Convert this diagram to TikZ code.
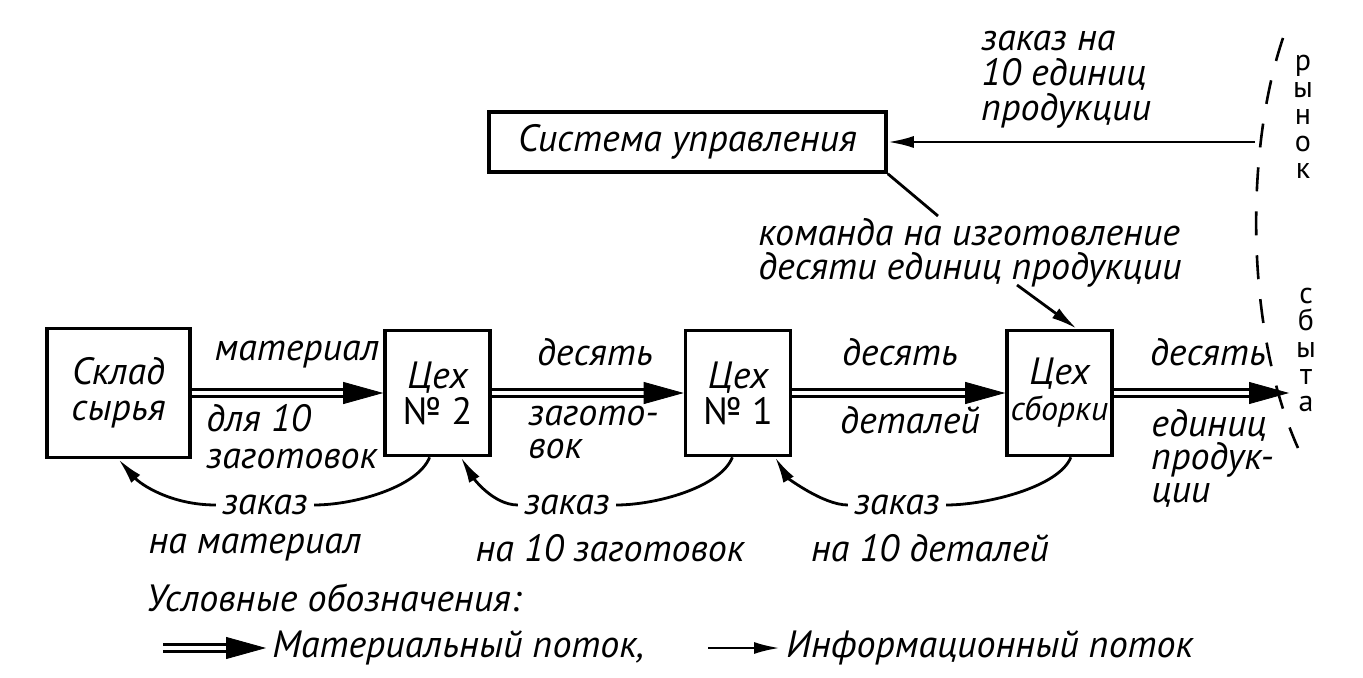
\documentclass[tikz,border=0pt]{standalone}
\usepackage{fontspec}
\setmainfont{PT Sans}
\usetikzlibrary{arrows.meta,calc}
\begin{document}
\begin{tikzpicture}[x=0.5pt,y=-0.5pt,
  every node/.style={font=\fontsize{19}{16.5}\selectfont\itshape, inner sep=3pt},
  box/.style={draw, line width=1.8pt, align=center, inner sep=0pt,
    font=\fontsize{19}{18}\selectfont\itshape},
  info/.style={line width=1.4pt, -{Latex[length=13pt,width=6pt]}},
  infoline/.style={line width=1.4pt},
  matline/.style={double, double distance=1.6pt, line width=1.5pt, shorten >=18pt},
  mattip/.style={draw=white, line width=0.4pt, -{Triangle[length=20pt,width=11pt,color=black]}},
  dsh/.style={line width=1.3pt, dash pattern=on 12pt off 10pt},
  vert/.style={font=\fontsize{15}{13.5}\selectfont, align=center, inner sep=0pt}
]
\useasboundingbox (0,0) rectangle (1363,678);

% boxes
\node[box, minimum width=71.5pt, minimum height=64.5pt] (sk) at (118.5,393) {Склад\\сырья};
\node[box, minimum width=52.5pt, minimum height=62.5pt] (c2) at (437.5,393) {Цех\\\upshape№ 2};
\node[box, minimum width=52.5pt, minimum height=62.5pt] (c1) at (738,393) {Цех\\\upshape№ 1};
\node[box, minimum width=52.5pt, minimum height=62.5pt] (cs) at (1059.5,393) {Цех\\{\fontsize{17}{18}\selectfont сборки}};
\node[box, minimum width=198.5pt, minimum height=30pt] (sys) at (687.5,142) {Система управления};

% material flow
\coordinate (mk) at (1289,393);
\foreach \a/\b in {sk.east/c2.west, c2.east/c1.west, c1.east/cs.west, cs.east/mk}{
  \draw[matline] (\a) -- (\b);
  \draw[mattip] (\a) -- (\b);
}

% labels on material arrows
\node (t1) at (297,355) {материал};
\node[anchor=north west, align=left, font=\fontsize{19}{18.5}\selectfont\itshape] (t2) at (200,398) {для 10\\заготовок};
\node (t3) at (595,352) {десять};
\node[anchor=north west, align=left] (t4) at (522,400) {загото-\\вок};
\node (t5) at (900,352) {десять};
\node (t6) at (910,420) {деталей};
\node (t7) at (1208,352) {десять};
\node[anchor=north west, align=left] (t8) at (1145,403) {единиц\\продук-\\ции};

% order labels
\node (z1) at (265,505) {заказ};
\node (n1) at (255,548) {на материал};
\node (z2) at (567,505) {заказ};
\node (n2) at (610,548) {на 10 заготовок};
\node (z3) at (897,505) {заказ};
\node (n3) at (930,548) {на 10 деталей};

% information flow (orders)
\draw[infoline] (c2.-97) .. controls ($(c2.-97)+(-12,30)$) and ($(z1.east)+(40,0)$) .. (z1.east);
\draw[info] (z1.west) .. controls ($(z1.west)+(-45,0)$) and ($(sk.south)+(22,25)$) .. (sk.south);
\draw[infoline] (c1.-95) .. controls ($(c1.-95)+(-12,30)$) and ($(z2.east)+(40,0)$) .. (z2.east);
\draw[info] (z2.west) .. controls ($(z2.west)+(-25,0)$) and ($(c2.-70)+(12,20)$) .. (c2.-70);
\draw[infoline] (cs.-80) .. controls ($(cs.-80)+(-12,30)$) and ($(z3.east)+(40,0)$) .. (z3.east);
\draw[info] (z3.west) .. controls ($(z3.west)+(-25,0)$) and ($(c1.-60)+(12,20)$) .. (c1.-60);

% market order
\node[anchor=north west, align=left, font=\fontsize{19}{17.5}\selectfont\itshape] (ord) at (975,25) {заказ на\\10 единиц\\продукции};
\coordinate (mkt) at (1255,142);
\draw[info] (mkt) -- (sys.east);

% command
\node[anchor=north west, align=left, font=\fontsize{19}{17}\selectfont\itshape] (cmd) at (752,212) {команда на изготовление\\десяти единиц продукции};
\coordinate (cmdin) at (938,216);
\coordinate (cmdout) at (1017,285);
\draw[infoline] (sys.south east) -- (cmdin);
\draw[info] (cmdout) -- (cs.75);

% market boundary
\draw[dsh] (1283,38) .. controls (1245,150) and (1245,330) .. (1298,448);
\node[vert] (ry) at (1303,117) {р\\ы\\н\\о\\к};
\node[vert] (sb) at (1306,350) {с\\б\\ы\\т\\а};

% legend
\node[anchor=west] (leg) at (140,598) {Условные обозначения:};
\coordinate (la) at (163,648);
\node[anchor=west] (lm) at (266,648) {Материальный поток,};
\draw[matline] (la) -- (lm.west);
\draw[mattip] (la) -- (lm.west);
\coordinate (lb) at (708,648);
\node[anchor=west] (li) at (780,648) {Информационный поток};
\draw[info] (lb) -- (li.west);
\end{tikzpicture}
\end{document}
